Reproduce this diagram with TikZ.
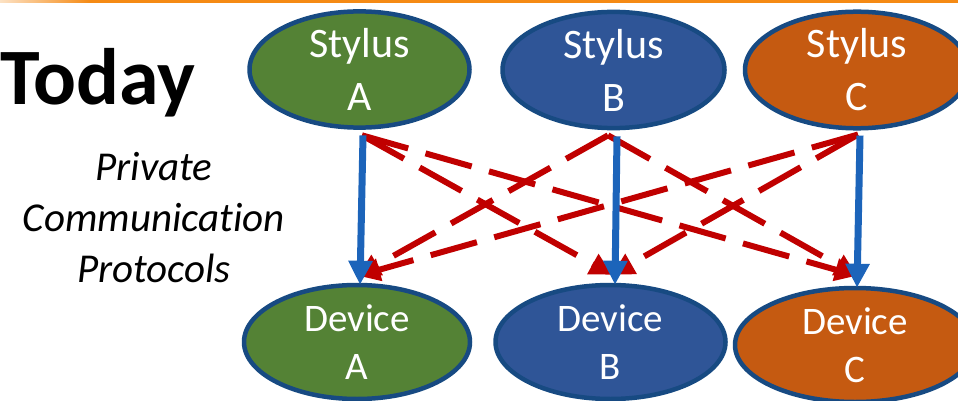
\documentclass[tikz,border=0pt]{standalone}
\usepackage{fontspec}
\setmainfont{Carlito}[Ligatures=CommonOff]
\usetikzlibrary{shapes.geometric,arrows.meta}

\definecolor{rimblue}{HTML}{174A82}
\definecolor{leaf}{HTML}{548235}
\definecolor{navy}{HTML}{2F5597}
\definecolor{rust}{HTML}{C55A11}
\definecolor{linkblue}{HTML}{1C64BA}
\definecolor{linkred}{HTML}{C00000}
\definecolor{topline}{HTML}{F58A14}

\tikzset{
  pod/.style={ellipse, draw=rimblue, line width=4.5pt, inner sep=0pt,
    text=white, align=center},
  stylusfont/.style={font=\fontsize{42}{53}\selectfont},
  devicefont/.style={font=\fontsize{39}{48}\selectfont},
  wire/.style={draw=linkblue, line width=7pt,
    -{Triangle[width=23pt,length=24pt]}},
  cross/.style={draw=linkred, line width=6pt, dash pattern=on 48pt off 18pt,
    -{Triangle[width=22pt,length=22pt]}},
}

\begin{document}
\begin{tikzpicture}[x=1pt,y=1pt]
  \clip (0,0) rectangle (958,-401);
  \fill[white] (0,0) rectangle (958,-401);

  % thin orange rule along the top edge
  \shade[left color=topline!25, right color=topline] (0,0) rectangle (90,-2.6);
  \fill[topline] (90,0) rectangle (958,-2.6);

  % headline and caption
  \node[anchor=base west, inner sep=0pt, font=\fontsize{80}{90}\selectfont\bfseries]
    (today) at (0.5,-105) {Today};
  \node[anchor=base, inner sep=0pt, align=center,
    font=\fontsize{41}{51}\selectfont\itshape]
    (caption) at (154,-282) {Private\\Communication\\Protocols};

  % styluses
  \node[pod, stylusfont, fill=leaf, minimum width=220pt, minimum height=116pt]
    (sA) at (359.5,-69.5) {Stylus\\A};
  \node[pod, stylusfont, fill=navy, minimum width=222pt, minimum height=116pt]
    (sB) at (613.5,-70) {Stylus\\B};
  \node[pod, stylusfont, fill=rust, minimum width=224pt, minimum height=116pt]
    (sC) at (857,-70) {Stylus\\C};

  % devices
  \node[pod, devicefont, fill=leaf, minimum width=226pt, minimum height=114pt]
    (dA) at (357,-342) {Device\\A};
  \node[pod, devicefont, fill=navy, minimum width=230pt, minimum height=114pt]
    (dB) at (610.5,-342) {Device\\B};
  \node[pod, devicefont, fill=rust, minimum width=240pt, minimum height=114pt]
    (dC) at (855,-345) {Device\\C};

  % cross links between non-matching pairs
  \draw[cross] ([shift={(2.5,-5.5)}]sA.south) -- ([shift={(1.5,8)}]dB.north);
  \draw[cross] ([shift={(2.5,-5.5)}]sA.south) -- ([shift={(2,10)}]dC.north);
  \draw[cross] ([shift={(-5.5,-5)}]sB.south) -- ([shift={(1,7)}]dA.north);
  \draw[cross] ([shift={(-5.5,-5)}]sB.south) -- ([shift={(2,10)}]dC.north);
  \draw[cross] ([shift={(1,-4)}]sC.south) -- ([shift={(1,7)}]dA.north);
  \draw[cross] ([shift={(1,-4)}]sC.south) -- ([shift={(1.5,8)}]dB.north);

  % direct links between matching pairs
  \draw[wire] ([shift={(3.5,-5.5)}]sA.south) -- ([shift={(3,-2)}]dA.north);
  \draw[wire] ([shift={(3.5,-6)}]sB.south) -- ([shift={(4.5,-2)}]dB.north);
  \draw[wire] ([shift={(3,-5)}]sC.south) -- ([shift={(2,-2)}]dC.north);
\end{tikzpicture}
\end{document}
